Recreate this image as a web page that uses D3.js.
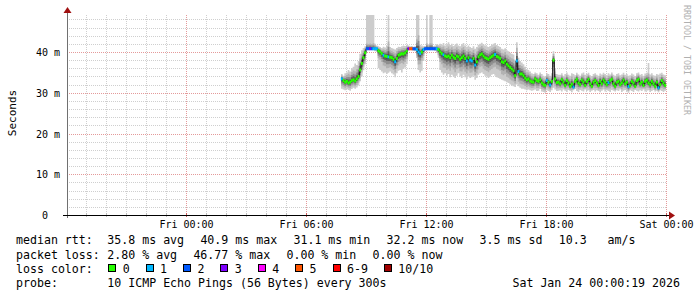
<!DOCTYPE html>
<html><head><meta charset="utf-8">
<script src="https://cdn.jsdelivr.net/npm/d3@7"></script>
<style>
html,body{margin:0;padding:0;background:#fff;}
svg{display:block;}
text{font-family:"DejaVu Sans Mono",monospace;white-space:pre;}
</style>
</head><body>
<svg id="c" width="697" height="297"></svg>
<script>
// ---------- DATA ----------
const startTime = Date.UTC(2026,0,22,18,3);
const endTime   = Date.UTC(2026,0,24,0,3);
const firstSample = Date.UTC(2026,0,23,7,45);
const stepMinutes = 5;

// median rtt (ms), one per 5-minute step
const median = [
 33.4,33.0,32.6,32.8,32.4,32.6,33.0,33.2,32.9,33.4,34.0,
 35.6,37.2,38.6,39.8,
 40.8,40.8,40.8,40.8,40.8,40.8,40.8,
 40.3,40.0,39.6,39.2,39.0,38.9,38.8,38.7,38.6,38.2,37.6,38.4,39.2,39.4,39.6,39.5,39.8,40.3,
 40.8,40.8,40.8,40.8,40.8,40.6,40.0,39.6,40.0,40.6,40.8,40.8,40.8,40.8,40.8,40.8,40.8,40.8,40.6,
 40.0,39.6,39.3,39.0,38.8,39.0,38.6,39.2,38.7,38.4,39.0,38.8,38.2,38.6,39.0,38.4,37.8,
 38.6,38.0,37.8,38.4,36.8,37.6,38.8,39.3,39.5,39.0,38.6,38.4,38.2,38.6,38.9,39.2,39.4,38.9,38.7,38.4,
 37.6,37.4,37.8,37.0,36.6,36.2,35.8,35.4,34.2,37.8,35.2,34.6,34.6,34.2,33.6,33.2,33.4,32.9,32.7,
 32.6,33.4,33.0,32.8,33.2,32.4,32.0,31.8,33.0,32.6,31.9,32.8,38.0,33.4,32.5,32.6,
 32.2,33.2,32.6,31.8,33.0,32.4,31.6,32.1,31.4,32.8,33.3,32.4,32.0,33.1,32.6,31.8,32.8,33.3,32.2,31.6,
 32.6,33.0,32.4,31.8,32.8,32.2,33.1,32.6,32.0,32.5,33.0,33.3,32.2,31.6,32.6,32.8,32.0,32.4,33.1,32.2,
 32.6,31.5,31.8,32.8,32.4,31.6,33.0,33.3,32.2,32.6,31.8,32.8,33.1,32.4,32.0,32.8,32.2,31.6,32.6,31.2,
 32.0,33.0,32.4,31.8
];
// lowest ping of each step (ms)
const lo = [
 31.0,30.8,30.6,30.9,30.7,30.5,30.9,31.2,31.0,31.3,31.8,
 32.8,34.0,35.5,37.0,
 40.5,40.6,40.5,40.6,40.4,40.2,40.0,
 36.0,35.6,35.2,34.8,35.0,34.6,34.9,35.2,34.8,34.5,33.8,34.8,35.4,35.6,35.0,35.8,36.2,37.0,
 40.4,40.5,40.4,40.3,40.2,38.5,35.6,35.0,35.4,37.8,40.3,40.4,40.5,40.4,40.5,40.4,40.3,39.8,38.6,
 35.6,35.0,34.4,34.8,34.2,34.6,33.8,34.4,34.0,33.6,34.2,34.8,34.0,33.6,34.4,33.8,33.4,
 34.0,33.6,33.8,34.2,33.2,33.6,34.4,34.8,35.0,34.6,34.2,34.0,33.6,34.0,34.4,34.6,34.2,33.8,33.6,33.4,
 33.2,33.0,32.8,32.6,32.4,32.0,31.8,31.6,31.4,32.0,31.6,31.2,31.0,31.0,30.8,30.6,30.8,30.6,30.5,
 30.6,30.8,30.4,30.5,30.9,30.3,30.2,30.0,30.6,30.4,30.2,30.6,31.2,30.8,30.4,30.5,
 30.6,30.3,30.8,30.5,30.2,30.7,30.4,30.1,30.6,30.9,30.4,30.2,30.7,30.5,30.3,30.8,30.4,30.6,30.2,30.5,
 30.7,30.3,30.6,30.4,30.1,30.5,30.8,30.3,30.6,30.4,30.2,30.7,30.5,30.3,30.6,30.4,30.8,30.2,30.5,30.7,
 30.3,30.0,30.6,30.4,30.2,30.7,30.5,30.3,30.6,30.4,30.8,30.3,30.5,30.6,30.2,30.4,30.7,30.3,30.5,30.1,
 30.6,30.4,30.2,30.5
];
// highest ping of each step (ms)
const hi = [
 34.6,34.2,34.8,35.0,35.6,35.2,36.0,36.4,37.2,36.8,37.8,
 39.6,40.4,41.0,41.4,
 60,60,60,60,60,42.0,41.6,
 41.4,41.2,41.0,41.3,41.1,41.5,60,41.2,41.0,40.8,40.6,41.0,41.3,41.2,41.4,41.6,41.5,41.8,
 41.6,41.4,41.5,41.3,41.4,60,60,41.8,41.6,41.4,41.5,60,41.9,60,60,41.5,41.6,41.9,41.8,
 42.0,41.8,42.2,41.6,41.9,42.4,41.7,42.0,41.5,41.8,42.1,41.6,41.4,41.9,42.2,41.6,41.3,
 41.6,41.2,41.0,41.4,40.8,41.2,41.8,42.0,42.3,41.9,41.6,41.4,41.2,41.5,41.8,42.0,42.2,41.7,41.5,41.2,
 40.8,40.6,40.9,40.4,40.2,39.8,39.6,39.4,38.0,42.4,38.6,37.8,37.4,37.0,36.4,35.8,35.6,35.2,34.8,
 34.6,35.0,34.8,34.4,35.0,34.6,34.2,34.0,34.8,34.6,34.2,34.8,40.2,36.0,34.6,34.4,
 34.4,34.8,34.2,34.6,35.0,34.4,34.2,34.8,34.6,34.3,34.9,34.5,34.2,34.7,35.0,34.4,34.6,34.9,34.3,34.1,
 34.6,34.8,34.4,34.2,34.7,34.5,34.9,34.6,34.3,34.8,34.5,35.0,34.4,34.2,34.6,34.8,34.3,34.5,34.9,34.4,
 34.6,34.2,34.3,34.7,34.5,34.1,34.8,35.0,34.4,34.6,34.2,34.7,34.9,37.3,34.5,34.8,34.3,34.2,34.6,34.4,
 34.7,34.9,34.5,34.3
];
// lost pings out of 10
const loss = [
 1,0,0,0,0,0,0,0,0,0, 0,0,0,0,0,2,2,3,2,1,
 1,1,0,0,0,1,0,0,1,0, 0,0,1,0,0,0,0,0,0,0,
 3,5,5,2,2,1,1,1,0,1, 2,2,2,2,2,2,2,1,0,0,
 0,1,0,0,0,0,0,0,0,0, 0,0,0,0,0,1,0,1,1,0,
 1,0,0,0,0,0,0,0,0,0, 0,0,1,0,0,0,0,0,0,0,
 0,0,0,0,0,1,1,0,0,0, 0,0,0,0,0,0,0,0,0,0,
 0,0,0,1,0,1,0,0,0,0, 0,0,0,0,0,0,0,0,0,1,
 0,0,0,0,0,0,0,0,0,0, 0,0,0,0,0,0,0,0,0,0,
 1,0,0,0,0,0,0,0,0,0, 0,0,1,0,0,0,0,0,0,0,
 0,0,0,0,0,0,0,0,0,0, 1,0,0,0,0
];

const yMax = 49.08;
const yTickValues = [0,10,20,30,40];
const yTickLabels = ["0","10 m","20 m","30 m","40 m"];
const lossLabels = ["0","1","2","3","4","5","6-9","10/10"];
const lossColors = ["#26ff00","#00b8ff","#0059ff","#7e00ff","#ff00ff","#ff5500","#ff0000","#a10000"];
const rttStats  = ["35.8 ms avg","40.9 ms max","31.1 ms min","32.2 ms now","3.5 ms sd","10.3   am/s"];
const lossStats = ["2.80 % avg","46.77 % max","0.00 % min","0.00 % now"];
const probeText = "10 ICMP Echo Pings (56 Bytes) every 300s";
const stampText = "Sat Jan 24 00:00:19 2026";
const yTitle = "Seconds";
const sideText = "RRDTOOL / TOBI OETIKER";

// ---------- LAYOUT ----------
const svg = d3.select("#c");
const PL=67, PR=667, PT=15, PB=215;
const x = d3.scaleUtc().domain([new Date(startTime), new Date(endTime)]).range([PL,PR]);
const y = d3.scaleLinear().domain([0,yMax]).range([PB,PT]);
const stepMs = stepMinutes*60000;

const pts = median.map((m,i)=>({t:new Date(firstSample+i*stepMs), m, lo:lo[i], hi:hi[i], loss:loss[i]}));
const ext = pts.concat([{...pts[pts.length-1], t:new Date(firstSample+pts.length*stepMs)}]);

svg.append("rect").attr("width",697).attr("height",297).attr("fill","#fff");
svg.append("defs").append("clipPath").attr("id","pc")
  .append("rect").attr("x",PL).attr("y",PT).attr("width",PR-PL).attr("height",PB-PT);

// grid
const g = svg.append("g").attr("shape-rendering","crispEdges");
const hours = d3.utcHour.range(new Date(startTime), new Date(endTime));
const majors = hours.filter(d=>d.getUTCHours()%6===0);
hours.filter(d=>d.getUTCHours()%6!==0).forEach(d=>{
  const xx=Math.round(x(d))+0.5;
  g.append("line").attr("x1",xx).attr("x2",xx).attr("y1",PT).attr("y2",PB)
    .attr("stroke","#cfcfcf").attr("stroke-dasharray","1,1");
});
d3.range(2,yMax,2).filter(v=>v%10!==0).forEach(v=>{
  const yy=Math.round(y(v))+0.5;
  g.append("line").attr("x1",PL).attr("x2",PR).attr("y1",yy).attr("y2",yy)
    .attr("stroke","#cfcfcf").attr("stroke-dasharray","1,1");
});
majors.forEach(d=>{
  const xx=Math.round(x(d))+0.5;
  g.append("line").attr("x1",xx).attr("x2",xx).attr("y1",PT).attr("y2",PB)
    .attr("stroke","#e49a9a").attr("stroke-dasharray","1,1");
});
yTickValues.slice(1).forEach(v=>{
  const yy=Math.round(y(v))+0.5;
  g.append("line").attr("x1",PL).attr("x2",PR).attr("y1",yy).attr("y2",yy)
    .attr("stroke","#e49a9a").attr("stroke-dasharray","1,1");
});

// smoke
const plot = svg.append("g").attr("clip-path","url(#pc)");
const bands = [{f:1,c:"#cccccc"},{f:0.7,c:"#b2b2b2"},{f:0.46,c:"#8e8e8e"},{f:0.26,c:"#5e5e5e"},{f:0.1,c:"#2a2a2a"}];
bands.forEach(b=>{
  const top = d=>{ if(b.f===1) return d.hi; const ud=Math.min(d.hi-d.m, d.m-d.lo+1.5); return d.m+ud*b.f; };
  const bot = d=>{ if(b.f===1) return d.lo; const dd=Math.min(d.m-d.lo, d.hi-d.m+1.5); return d.m-dd*b.f; };
  const area = d3.area().curve(d3.curveStepAfter).x(d=>x(d.t)).y0(d=>y(bot(d))).y1(d=>y(top(d)));
  plot.append("path").datum(ext).attr("d",area).attr("fill",b.c);
});
// median
const line = d3.line().curve(d3.curveStepAfter).x(d=>x(d.t)).y(d=>y(d.m));
plot.append("path").datum(ext).attr("d",line).attr("fill","none").attr("stroke","#111").attr("stroke-width",1);
const lossIdx = l => l<=5 ? l : (l<10 ? 6 : 7);
plot.selectAll("rect.med").data(pts).join("rect").attr("class","med")
  .attr("x",d=>x(d.t)-0.2)
  .attr("width",d=>x(new Date(+d.t+stepMs))-x(d.t)+0.4)
  .attr("y",d=>y(d.m)-1.5).attr("height",3)
  .attr("fill",d=>lossColors[lossIdx(d.loss)]);

// axes lines and ticks
const ax = svg.append("g").attr("shape-rendering","crispEdges");
hours.forEach(d=>{
  const xx=Math.round(x(d))+0.5, mj=d.getUTCHours()%6===0;
  ax.append("line").attr("x1",xx).attr("x2",xx).attr("y1",PB-2).attr("y2",PB+2)
    .attr("stroke",mj?"#d06060":"#c0c0c0");
});
ax.append("line").attr("x1",PL+0.5).attr("x2",PL+0.5).attr("y1",PB+3).attr("y2",12).attr("stroke","#707070");
ax.append("line").attr("x1",63).attr("x2",670).attr("y1",PB+0.5).attr("y2",PB+0.5).attr("stroke","#000");
svg.append("path").attr("d",`M${PL-3.5},13L${PL+4.5},13L${PL+0.5},7Z`).attr("fill","#a01010");
svg.append("path").attr("d",`M669,${PB-3.5}L669,${PB+4.5}L675,${PB+0.5}Z`).attr("fill","#a01010");

// axis labels via d3 axes
const xAxis = d3.axisBottom(x).tickValues(majors)
  .tickFormat(d3.utcFormat("%a %H:%M")).tickSize(0);
const xg = svg.append("g").attr("transform",`translate(0,${PB})`).call(xAxis);
xg.select(".domain").remove();
xg.selectAll("text").attr("y",13).attr("dy",null).attr("fill","#000")
  .style("font-family","DejaVu Sans Mono").style("font-size","10px");

const yAxis = d3.axisLeft(y).tickValues(yTickValues).tickFormat((d,i)=>yTickLabels[i]).tickSize(0).tickPadding(7);
const yg = svg.append("g").attr("transform",`translate(${PL},0)`).call(yAxis);
yg.select(".domain").remove();
yg.selectAll("text").attr("dy","0.36em").attr("fill","#000")
  .attr("dx",(d,i)=>yTickLabels[i].length===1?-12:0)
  .style("font-family","DejaVu Sans Mono").style("font-size","10px");

// titles
svg.append("text").attr("transform","translate(15.5,113) rotate(-90)").attr("text-anchor","middle")
  .style("font-size","11px").attr("fill","#000").text(yTitle);
svg.append("text").attr("transform","translate(684,5) rotate(90)").attr("text-anchor","start")
  .style("font-size","8.3px").attr("fill","#b0b0b0").text(sideText);

// legend
const LF = "11.6px", CW = 6.98, GAP = 16.3, LX = 16, VX = 107.3;
const rows = [244, 258.5, 272.5, 286.5];
const tx = (xx,yy,s,anchor)=>svg.append("text").attr("x",xx).attr("y",yy).attr("xml:space","preserve")
  .attr("text-anchor",anchor||"start").style("font-size",LF).attr("fill","#000").text(s);
tx(LX,rows[0],"median rtt:");
tx(LX,rows[1],"packet loss:");
tx(LX,rows[2],"loss color:");
tx(LX,rows[3],"probe:");
let cx = VX;
rttStats.forEach(s=>{ tx(cx,rows[0],s); cx += s.length*CW+GAP; });
cx = VX;
lossStats.forEach(s=>{ tx(cx,rows[1],s); cx += s.length*CW+GAP; });
cx = VX+1;
lossLabels.forEach((s,i)=>{
  svg.append("rect").attr("x",cx+0.5).attr("y",rows[2]-8.5).attr("width",7).attr("height",7)
    .attr("fill",lossColors[i]).attr("stroke","#000").attr("stroke-width",1).attr("shape-rendering","crispEdges");
  tx(cx+14.4,rows[2],s);
  cx += 14.4 + s.length*CW + 16;
});
tx(VX,rows[3],probeText);
tx(680,rows[3],stampText,"end");
</script>
</body></html>
